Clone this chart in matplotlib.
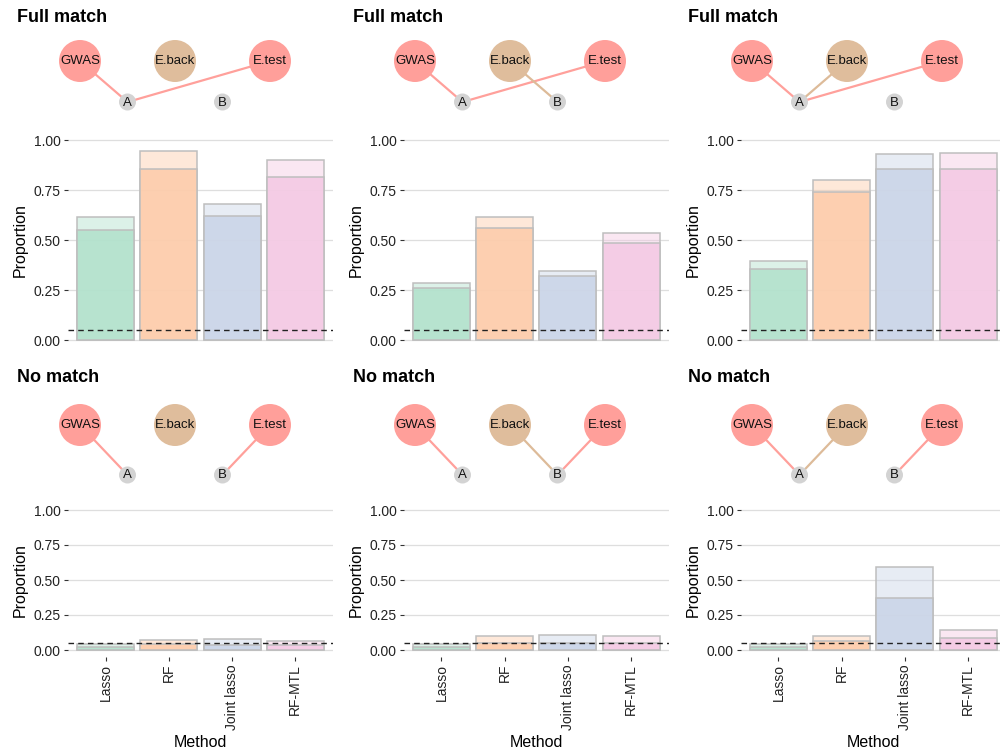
import matplotlib
matplotlib.use('Agg')
import matplotlib.pyplot as plt
from matplotlib.patches import Circle

plt.rcParams['font.family'] = ['Liberation Sans', 'DejaVu Sans']

# ---------------- data ----------------
methods = ['Lasso', 'RF', 'Joint lasso', 'RF-MTL']
panel_titles = ['Full match', 'Full match', 'Full match',
                'No match', 'No match', 'No match']

# total (lighter, upper) proportion per method
full_total = [[0.613, 0.947, 0.682, 0.898],
              [0.285, 0.613, 0.345, 0.533],
              [0.393, 0.802, 0.932, 0.933]]
# lower (darker) proportion per method
full_lower = [[0.550, 0.857, 0.620, 0.815],
              [0.258, 0.562, 0.318, 0.483],
              [0.353, 0.738, 0.853, 0.853]]
none_total = [[0.045, 0.069, 0.076, 0.064],
              [0.045, 0.102, 0.110, 0.102],
              [0.040, 0.100, 0.590, 0.143]]
none_lower = [[0.024, 0.040, 0.036, 0.036],
              [0.024, 0.050, 0.048, 0.050],
              [0.024, 0.064, 0.374, 0.083]]
alpha_level = 0.05

y_ticks = [0.0, 0.25, 0.5, 0.75, 1.0]
y_ticklabels = ['0.00', '0.25', '0.50', '0.75', '1.00']

big_nodes = ['GWAS', 'E.back', 'E.test']
small_nodes = ['A', 'B']
panel_edges = [
    [('GWAS', 'A'), ('E.test', 'A')],
    [('GWAS', 'A'), ('E.test', 'A'), ('E.back', 'B')],
    [('GWAS', 'A'), ('E.test', 'A'), ('E.back', 'A')],
    [('GWAS', 'A'), ('E.test', 'B')],
    [('GWAS', 'A'), ('E.back', 'B'), ('E.test', 'B')],
    [('GWAS', 'A'), ('E.back', 'A'), ('E.test', 'B')],
]

# ---------------- style ----------------
bar_colors = ['#B3E2CD', '#FDCDAC', '#CBD5E8', '#F4CAE4']
node_colors = {'GWAS': '#FF9F9A', 'E.back': '#DFBD9C', 'E.test': '#FF9F9A',
               'A': '#D3D3D3', 'B': '#D3D3D3'}
edge_colors = {'GWAS': '#FFA09B', 'E.back': '#DDBB99', 'E.test': '#FFA09B'}
node_xunit = {'GWAS': 0.0, 'E.back': 1.0, 'E.test': 2.0, 'A': 0.5, 'B': 1.5}

W, H = 1000, 750
fig = plt.figure(figsize=(10, 7.5), dpi=100)


def add_ax(x0, y0, x1, y1, **kw):
    return fig.add_axes([x0 / W, 1 - y1 / H, (x1 - x0) / W, (y1 - y0) / H], **kw)


unit = 63.25
col_left = [67.6, 403.5, 740.5]
row_y = [(130, 350), (503, 657)]
col_title_x = [17, 353, 688]
row_title_y = [18, 378]
col_gwas_x = [80, 415, 752]
row_node_y = [(61, 102), (425, 475)]
node_step = 95

# overlay for titles and diagrams (pixel coords)
ov = add_ax(0, 0, W, H)
ov.set_xlim(0, W)
ov.set_ylim(H, 0)
ov.axis('off')
ov.set_zorder(5)
ov.patch.set_alpha(0)

for p in range(6):
    r, c = divmod(p, 3)
    # title
    ov.text(col_title_x[c], row_title_y[r], panel_titles[p], fontsize=13,
            fontweight='bold', ha='left', va='center')
    # diagram
    by, sy = row_node_y[r]
    pos = {}
    for n in big_nodes:
        pos[n] = (col_gwas_x[c] + node_xunit[n] * node_step, by)
    for n in small_nodes:
        pos[n] = (col_gwas_x[c] + node_xunit[n] * node_step, sy)
    for a, b in panel_edges[p]:
        ov.plot([pos[a][0], pos[b][0]], [pos[a][1], pos[b][1]],
                color=edge_colors[a], lw=1.6, zorder=1, solid_capstyle='butt')
    for n in big_nodes:
        ov.add_patch(Circle(pos[n], 21, color=node_colors[n], zorder=2, lw=0))
        ov.text(pos[n][0], pos[n][1] + 0.5, n, fontsize=9.5, ha='center',
                va='center', zorder=3, color='#111111')
    for n in small_nodes:
        ov.add_patch(Circle(pos[n], 8.5, color=node_colors[n], zorder=2, lw=0))
        ov.text(pos[n][0], pos[n][1] + 0.5, n, fontsize=9.5, ha='center',
                va='center', zorder=3, color='#111111')

    # bar axes
    totals = (full_total if r == 0 else none_total)[c]
    lowers = (full_lower if r == 0 else none_lower)[c]
    x0 = col_left[c]
    y0, y1 = row_y[r]
    ax = add_ax(x0, y0, x0 + 4.2 * unit, y1)
    ax.set_xlim(-0.6, 3.6)
    ax.set_ylim(-0.05, 1.05)
    xs = list(range(len(methods)))
    ax.bar(xs, totals, width=0.9, color=bar_colors, alpha=0.45,
           edgecolor='none', zorder=2)
    ax.bar(xs, totals, width=0.9, color='none', edgecolor='#BEBEBE',
           linewidth=1.1, zorder=3)
    ax.bar(xs, lowers, width=0.9, color=bar_colors, alpha=0.9,
           edgecolor='none', zorder=3)
    ax.bar(xs, lowers, width=0.9, color='none', edgecolor='#BEBEBE',
           linewidth=1.1, zorder=4)
    ax.axhline(alpha_level, color='#222222', lw=1.0, ls=(0, (4, 3)), zorder=5)
    ax.set_yticks(y_ticks)
    ax.set_yticklabels(y_ticklabels, fontsize=10, color='#222222')
    ax.grid(axis='y', color='#DEDEDE', lw=0.9, zorder=0)
    ax.set_axisbelow(True)
    for s in ax.spines.values():
        s.set_visible(False)
    ax.patch.set_alpha(0)
    ax.tick_params(axis='y', length=3, width=0.8, color='#333333', pad=2)
    ax.set_ylabel('Proportion', fontsize=11.5, labelpad=4)
    if r == 0:
        ax.set_xticks([])
    else:
        ax.set_xticks(xs)
        ax.set_xticklabels(methods, rotation=90, fontsize=10, color='#222222')
        ax.tick_params(axis='x', length=3, width=0.8, color='#333333', pad=2)
        ax.set_xlabel('Method', fontsize=11.5, labelpad=4)

fig.savefig('out.png', dpi=100)
